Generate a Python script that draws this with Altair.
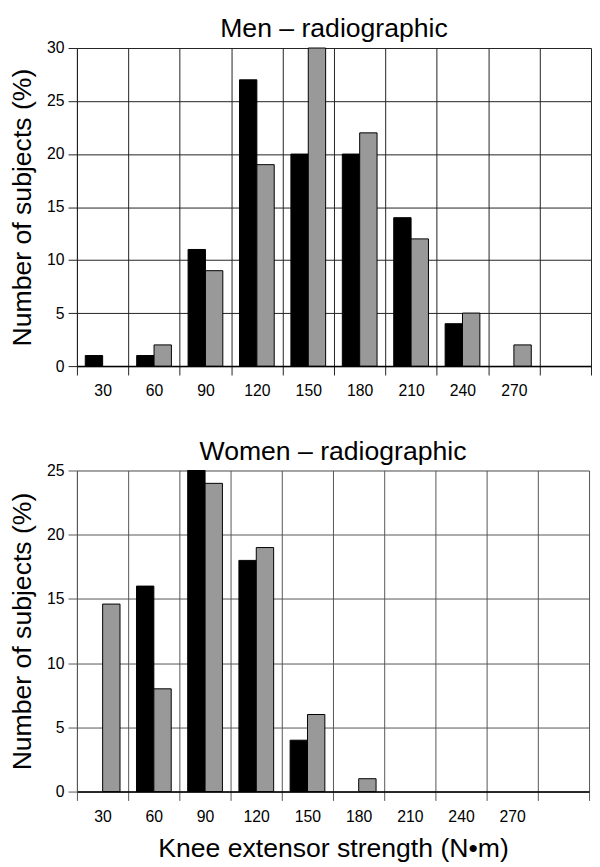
import altair as alt
import pandas as pd

categories = ["30", "60", "90", "120", "150", "180", "210", "240", "270", "300"]
bins = ["30", "60", "90", "120", "150", "180", "210", "240", "270"]
men_black = [1, 1, 11, 27, 20, 20, 14, 4, 0]
men_gray = [0, 2, 9, 19, 30, 22, 12, 5, 2]
women_black = [0, 16, 25, 18, 4, 0, 0, 0, 0]
women_gray = [14.6, 8, 24, 19, 6, 1, 0, 0, 0]
series_names = ["Series 1", "Series 2"]
series_colors = ["#000000", "#999999"]

FONT = "Liberation Sans"


def make_df(a, b):
    rows = []
    for c, v in zip(bins, a):
        rows.append({"cat": c, "series": series_names[0], "value": v})
    for c, v in zip(bins, b):
        rows.append({"cat": c, "series": series_names[1], "value": v})
    return pd.DataFrame(rows)


def panel(df, title, ymax, xtitle, width, height, gridcolor):
    x_axis = alt.Axis(
        tickBand="extent",
        labelAngle=0,
        labelExpr="datum.value == '300' ? '' : datum.label",
        labelFont=FONT,
        labelFontSize=16,
        labelColor="#000",
        labelPadding=8,
        tickSize=9,
        tickColor=gridcolor,
        grid=True,
        gridColor=gridcolor,
        gridOpacity=1,
        domainColor="#000",
        domainWidth=1.5,
        title=xtitle if xtitle else None,
        titleFont=FONT,
        titleFontSize=27,
        titleFontWeight="normal",
        titleColor="#000",
        titlePadding=12,
    )
    y_axis = alt.Axis(
        values=list(range(0, ymax + 1, 5)),
        labelFont=FONT,
        labelFontSize=16,
        labelColor="#000",
        labelPadding=4,
        tickSize=9,
        tickColor=gridcolor,
        grid=True,
        gridColor=gridcolor,
        gridOpacity=1,
        domainColor=gridcolor,
        title="Number of subjects (%)",
        titleFont=FONT,
        titleFontSize=27,
        titleFontWeight="normal",
        titleColor="#000",
        titlePadding=10,
    )
    return (
        alt.Chart(df)
        .transform_filter("datum.value > 0")
        .mark_bar(stroke="#000", strokeWidth=1)
        .encode(
            x=alt.X("cat:N", sort=categories,
                    scale=alt.Scale(domain=categories, paddingInner=0, paddingOuter=0),
                    axis=x_axis),
            xOffset=alt.XOffset("series:N",
                                scale=alt.Scale(domain=series_names, paddingOuter=0.48, paddingInner=0)),
            y=alt.Y("value:Q", scale=alt.Scale(domain=[0, ymax], nice=False), axis=y_axis),
            color=alt.Color("series:N", scale=alt.Scale(domain=series_names, range=series_colors),
                            legend=None),
        )
        .properties(
            width=width,
            height=height,
            title=alt.TitleParams(title, font=FONT, fontSize=27, fontWeight="normal",
                                  color="#000", anchor="middle", frame="group", offset=-3),
        )
    )


top = panel(make_df(men_black, men_gray), "Men – radiographic", 30, None, 522, 323, "#222")
bottom = panel(make_df(women_black, women_gray), "Women – radiographic", 25,
               "Knee extensor strength (N•m)", 520, 326, "#555")

chart = (
    alt.vconcat(top, bottom, spacing=38)
    .properties(padding=0)
    .configure_view(stroke="#333", strokeWidth=1)
    .configure(background="white")
)

chart.save("out.html", embed_options={"renderer": "svg", "actions": False})
